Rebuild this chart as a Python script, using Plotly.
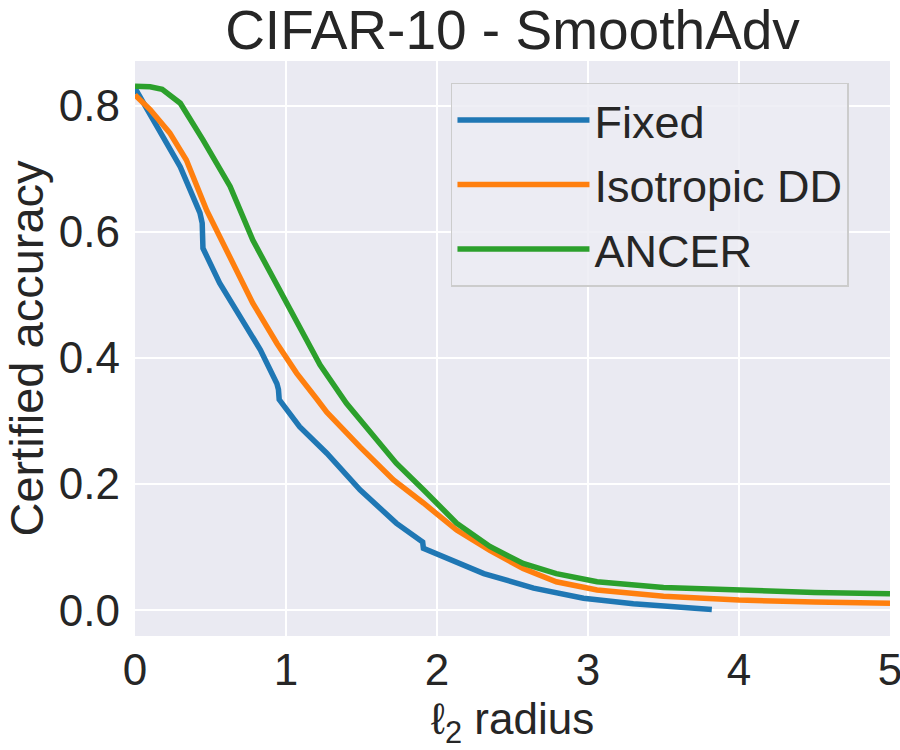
import plotly.graph_objects as go

# ---- data ----
fixed_x = [0, 0.05, 0.10, 0.19, 0.30, 0.43, 0.445, 0.45, 0.56, 0.695, 0.83, 0.94, 0.95, 0.955,
           1.09, 1.27, 1.49, 1.73, 1.89, 1.905, 1.91, 2.09, 2.31, 2.64, 2.97, 3.3, 3.6, 3.82]
fixed_y = [0.828, 0.807, 0.788, 0.746, 0.703, 0.630, 0.614, 0.574, 0.519, 0.466, 0.413, 0.359, 0.350, 0.334,
           0.291, 0.249, 0.191, 0.138, 0.111, 0.108, 0.098, 0.080, 0.058, 0.035, 0.019, 0.010, 0.005, 0.001]

iso_x = [0, 0.10, 0.23, 0.34, 0.475, 0.63, 0.78, 0.94, 1.07, 1.20, 1.27, 1.49, 1.71, 1.91,
         2.13, 2.35, 2.57, 2.79, 3.06, 3.5, 4.0, 4.5, 5.0]
iso_y = [0.817, 0.794, 0.757, 0.714, 0.634, 0.561, 0.487, 0.423, 0.376, 0.336, 0.314, 0.259, 0.207, 0.170,
         0.127, 0.095, 0.066, 0.045, 0.032, 0.022, 0.016, 0.013, 0.011]

ancer_x = [0, 0.10, 0.18, 0.24, 0.30, 0.45, 0.63, 0.78, 1.03, 1.225, 1.40, 1.60, 1.73, 1.91,
           2.13, 2.35, 2.57, 2.79, 3.06, 3.5, 4.0, 4.5, 5.0]
ancer_y = [0.831, 0.830, 0.826, 0.815, 0.804, 0.746, 0.672, 0.587, 0.476, 0.389, 0.328, 0.270, 0.233, 0.191,
           0.138, 0.101, 0.074, 0.058, 0.045, 0.036, 0.031, 0.028, 0.026]

series_names = ["Fixed", "Isotropic DD", "ANCER"]
colors = ["#1f77b4", "#ff7f0e", "#2ca02c"]
x_ticks = [0, 1, 2, 3, 4, 5]
y_ticks = [0.0, 0.2, 0.4, 0.6, 0.8]

FONT = "Liberation Sans, Arial, sans-serif"
TXT = "#262626"

fig = go.Figure()
for i, (xs, ys) in enumerate([(fixed_x, fixed_y), (iso_x, iso_y), (ancer_x, ancer_y)]):
    fig.add_trace(go.Scatter(
        x=xs, y=ys, mode="lines", name=series_names[i],
        line=dict(color=colors[i], width=5.5),
        legendgroup=f"g{i}",
    ))

fig.update_layout(
    width=900, height=750,
    paper_bgcolor="white",
    plot_bgcolor="#EAEAF2",
    margin=dict(l=135, r=10, t=61, b=114, autoexpand=False),
    font=dict(family=FONT, color=TXT, size=44),
    title=dict(text="CIFAR-10 - SmoothAdv", x=0.5694, xanchor="center",
               y=0.986, yanchor="top", font=dict(size=55, color=TXT), automargin=False),
    showlegend=True,
    legend=dict(
        x=0.4185, y=0.962, xanchor="left", yanchor="top",
        bgcolor="rgba(236,236,243,0.85)", bordercolor="#CCCCCC", borderwidth=1.5,
        font=dict(size=45, color=TXT),
        tracegroupgap=3, traceorder="grouped",
        itemwidth=132,
    ),
    xaxis=dict(
        range=[0, 5], tickvals=x_ticks, ticktext=[str(v) for v in x_ticks],
        showgrid=True, gridcolor="white", gridwidth=2, zeroline=False,
        showline=False, ticks="", tickfont=dict(size=44, color=TXT),
        ticklabelstandoff=4, ticklabeloverflow="allow", automargin=False,
        title=dict(text="ℓ<sub>2</sub> radius", font=dict(size=44, color=TXT), standoff=2),
    ),
    yaxis=dict(
        range=[-0.041, 0.871], tickvals=y_ticks, ticktext=[f"{v:.1f}" for v in y_ticks],
        showgrid=True, gridcolor="white", gridwidth=2, zeroline=False,
        showline=False, ticks="", tickfont=dict(size=44, color=TXT),
        ticklabelstandoff=14, ticklabeloverflow="allow", automargin=False,
        title=dict(text="Certified accuracy", font=dict(size=47, color=TXT), standoff=8),
    ),
)

fig.write_html("out.html", config={"displayModeBar": False},
               post_script="document.body.style.margin='0px';")
